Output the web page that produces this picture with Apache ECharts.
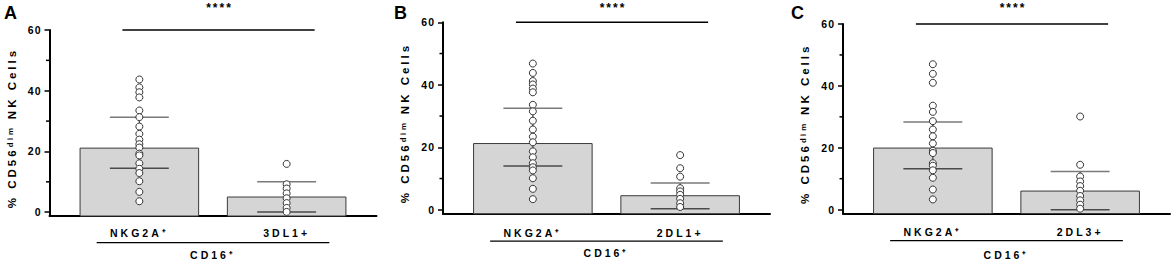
<!DOCTYPE html>
<html><head><meta charset="utf-8">
<script src="https://cdn.jsdelivr.net/npm/echarts@6/dist/echarts.min.js"></script>
<style>html,body{margin:0;padding:0;background:#fff}#c{width:1173px;height:265px}</style>
</head><body><div id="c"></div>
<script>
// ---------- data ----------
const panelLetters = ['A', 'B', 'C'];
const categoryLabels = [['NKG2A⁺', '3DL1+'], ['NKG2A⁺', '2DL1+'], ['NKG2A⁺', '2DL3+']];
const groupLabel = 'CD16⁺';
const yTitle = '% CD56ᵈⁱᵐ NK Cells';
const yTickValues = [0, 20, 40, 60];
const yMinorTickValues = [10, 30, 50];
const sigText = '****';
const categoryPositions = [1, 2];

const barMeans = [[21.1, 5.0], [21.2, 4.5], [19.9, 6.0]];
const errUpper = [[31.3, 10.0], [32.5, 8.6], [28.3, 12.3]];
const errLower = [[14.5, 0.1], [14.0, 0.3], [13.2, 0.0]];

const ptsA_NKG2A = [43.7, 41.1, 39.5, 37.8, 33.5, 31.3, 28.2, 25.8, 23.9, 22.4, 21.3, 19.3, 18.7, 16.1, 14.3, 12.9, 10.2, 6.7, 3.6];
const ptsA_3DL1 = [15.9, 9.2, 7.8, 6.2, 4.6, 3.0, 1.4, 0.1];
const ptsB_NKG2A = [46.8, 43.8, 41.2, 40.1, 38.8, 37.6, 33.6, 31.5, 28.5, 25.7, 23.4, 21.6, 18.7, 16.8, 14.9, 13.6, 12.6, 10.1, 6.7, 3.4];
const ptsB_2DL1 = [17.5, 13.3, 10.6, 6.9, 5.9, 4.8, 3.5, 2.1, 0.9];
const ptsC_NKG2A = [47.0, 43.9, 41.0, 33.6, 31.6, 28.6, 25.9, 23.7, 21.4, 19.0, 18.3, 15.0, 14.2, 12.7, 10.3, 6.5, 3.3];
const ptsC_2DL3 = [30.1, 14.5, 10.7, 9.1, 7.6, 6.1, 4.4, 3.0, 1.6, 0.3];
const points = [[ptsA_NKG2A, ptsA_3DL1], [ptsB_NKG2A, ptsB_2DL1], [ptsC_NKG2A, ptsC_2DL3]];

// significance bar (x span in category units, y value) and bracket under the axis
const sigSpan = [0.885, 2.19];
const sigValue = 60;
const bracketSpan = [0.71, 2.29];
const bracketValue = -10;

// ---------- layout / style ----------
const FONT = '"Liberation Sans", Arial, sans-serif';
const layout = [
  {left: 49.5, top: 30, width: 327, height: 191.5, labelMargin: 11, nameGap: 33, letterX: 4},
  {left: 443, top: 22.3, width: 327, height: 191.4, labelMargin: 13.5, nameGap: 34, letterX: 394},
  {left: 843, top: 24, width: 327, height: 191, labelMargin: 13, nameGap: 35.5, letterX: 791}
];
const X_MIN = 0.39, X_MAX = 2.61, Y_MIN = -1.25, Y_MAX = 60;

const grid = [], xAxis = [], yAxis = [], series = [];
layout.forEach((L, i) => {
  grid.push({left: L.left, top: L.top, width: L.width, height: L.height, containLabel: false});
  xAxis.push({
    type: 'value', gridIndex: i, min: X_MIN, max: X_MAX,
    axisLine: {show: true, onZero: false, lineStyle: {color: '#000', width: 2}},
    axisTick: {show: false}, splitLine: {show: false},
    axisLabel: {
      customValues: categoryPositions, margin: L.labelMargin,
      formatter: v => categoryLabels[i][Math.round(v) - 1],
      color: '#000', fontFamily: FONT, fontWeight: 'bold', fontSize: 10.5
    },
    name: groupLabel, nameLocation: 'middle', nameGap: L.nameGap,
    nameTextStyle: {color: '#000', fontFamily: FONT, fontWeight: 'bold', fontSize: 10.5}
  });
  yAxis.push({
    type: 'value', gridIndex: i, min: Y_MIN, max: Y_MAX, position: 'left',
    axisLine: {show: true, onZero: false, lineStyle: {color: '#000', width: 2}},
    axisTick: {show: true, customValues: yTickValues, length: 5, lineStyle: {color: '#000', width: 1.5}},
    axisLabel: {customValues: yTickValues, margin: 8, color: '#000', fontFamily: FONT, fontWeight: 'bold', fontSize: 10.5},
    splitLine: {show: false},
    name: yTitle, nameLocation: 'middle', nameRotate: 90, nameGap: 32,
    nameTextStyle: {color: '#000', fontFamily: FONT, fontWeight: 'bold', fontSize: 11.5, padding: [0, 10, 0, 0]}
  });

  // minor ticks on the y axis
  series.push({
    type: 'custom', xAxisIndex: i, yAxisIndex: i, clip: false, z: 6,
    data: yMinorTickValues.map(v => [X_MIN, v]),
    renderItem: (params, api) => {
      const p = api.coord([api.value(0), api.value(1)]);
      const x0 = params.coordSys.x;
      return {type: 'line', shape: {x1: x0 - 3.5, y1: p[1], x2: x0, y2: p[1]}, style: {stroke: '#000', lineWidth: 1.5}};
    }
  });
  // bars
  series.push({
    type: 'custom', xAxisIndex: i, yAxisIndex: i, clip: false, z: 2,
    data: categoryPositions.map((x, k) => [x, barMeans[i][k]]),
    renderItem: (params, api) => {
      const x = api.value(0);
      const top = api.coord([x, api.value(1)]);
      const cs = params.coordSys;
      const bottom = cs.y + cs.height;
      const w = api.size([0.805, 0])[0];
      return {type: 'rect', shape: {x: top[0] - w / 2, y: top[1], width: w, height: bottom - top[1]},
        style: {fill: '#d5d5d5', stroke: '#3a3a3a', lineWidth: 1}};
    }
  });
  // error bars
  series.push({
    type: 'custom', xAxisIndex: i, yAxisIndex: i, clip: false, z: 3,
    data: categoryPositions.map((x, k) => [x, errLower[i][k], errUpper[i][k]]),
    renderItem: (params, api) => {
      const x = api.value(0);
      const lo = api.coord([x, api.value(1)]);
      const hi = api.coord([x, api.value(2)]);
      const hw = api.size([0.2, 0])[0];
      return {type: 'group', children: [
        {type: 'line', shape: {x1: lo[0], y1: lo[1], x2: hi[0], y2: hi[1]}, style: {stroke: '#444', lineWidth: 1.2}},
        {type: 'line', shape: {x1: hi[0] - hw, y1: hi[1], x2: hi[0] + hw, y2: hi[1]}, style: {stroke: '#7a7a7a', lineWidth: 1.5}},
        {type: 'line', shape: {x1: lo[0] - hw, y1: lo[1], x2: lo[0] + hw, y2: lo[1]}, style: {stroke: '#4a4a4a', lineWidth: 1.5}}
      ]};
    }
  });
  // points
  categoryPositions.forEach((x, k) => {
    series.push({
      type: 'scatter', xAxisIndex: i, yAxisIndex: i, clip: false, z: 4,
      symbol: 'circle', symbolSize: 7,
      itemStyle: {color: '#fff', borderColor: '#333', borderWidth: 1, opacity: 1},
      data: points[i][k].map(v => [x, v])
    });
  });
  // significance line
  series.push({
    type: 'line', xAxisIndex: i, yAxisIndex: i, clip: false, symbol: 'none', z: 5,
    lineStyle: {color: '#000', width: 1.6},
    data: sigSpan.map(x => [x, sigValue])
  });
  // bracket under labels
  series.push({
    type: 'line', xAxisIndex: i, yAxisIndex: i, clip: false, symbol: 'none', z: 5,
    lineStyle: {color: '#000', width: 1.2},
    data: bracketSpan.map(x => [x, bracketValue])
  });
});

const chart = echarts.init(document.getElementById('c'), null, {renderer: 'svg'});
chart.setOption({animation: false, backgroundColor: '#fff', grid, xAxis, yAxis, series});

const graphic = [];
layout.forEach((L, i) => {
  graphic.push({type: 'text', x: L.letterX, y: 4, style: {text: panelLetters[i], fill: '#000', font: 'bold 18px ' + FONT, textAlign: 'left', textVerticalAlign: 'top'}});
  const p = chart.convertToPixel({xAxisIndex: i, yAxisIndex: i}, [(sigSpan[0] + sigSpan[1]) / 2, sigValue]);
  graphic.push({type: 'text', x: p[0] + 1, y: 1.5, style: {text: sigText, fill: '#000', font: 'bold 12px ' + FONT, textAlign: 'center', textVerticalAlign: 'top'}});
});
chart.setOption({graphic});

function spaceText() {
  document.querySelectorAll('#c svg text').forEach(t => {
    const s = t.textContent;
    let ls = '3px';
    if (/^\d+$/.test(s)) ls = '1px';
    else if (s === sigText) ls = '2px';
    else if (s.length === 1) ls = '0px';
    t.setAttribute('letter-spacing', ls);
  });
}
spaceText();
chart.on('finished', spaceText);
setTimeout(spaceText, 50);
</script>
</body></html>
